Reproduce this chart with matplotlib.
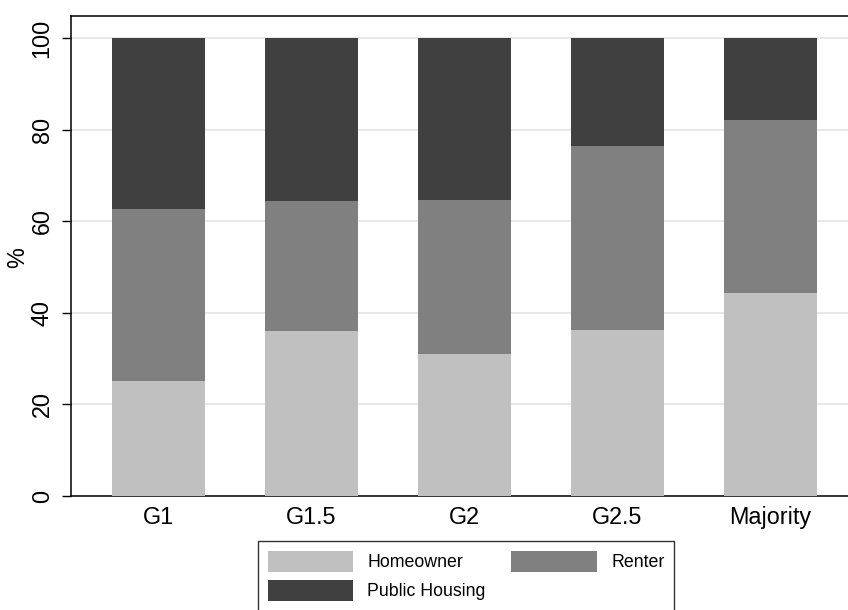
import matplotlib
matplotlib.use("Agg")
import matplotlib.pyplot as plt
import numpy as np

categories = ["G1", "G1.5", "G2", "G2.5", "Majority"]
homeowner = [25.0, 36.0, 30.9, 36.2, 44.4]
renter = [37.6, 28.3, 33.8, 40.3, 37.6]
public_housing = [37.4, 35.7, 35.3, 23.5, 18.0]
series_labels = ["Homeowner", "Renter", "Public Housing"]
colors = ["#c0c0c0", "#808080", "#404040"]

plt.rcParams['font.family'] = ['Liberation Sans', 'DejaVu Sans']

W, H = 848, 610
fig = plt.figure(figsize=(W / 100, H / 100), dpi=100)
left, right, top, bottom = 71, 858, 15.5, 496
ax = fig.add_axes([left / W, (H - bottom) / H, (right - left) / W, (bottom - top) / H])

x = np.arange(len(categories))
width = 0.605
b1 = ax.bar(x, homeowner, width, color=colors[0], zorder=3, label=series_labels[0])
b2 = ax.bar(x, renter, width, bottom=homeowner, color=colors[1], zorder=3, label=series_labels[1])
bot3 = np.array(homeowner) + np.array(renter)
b3 = ax.bar(x, public_housing, width, bottom=bot3, color=colors[2], zorder=3, label=series_labels[2])

ax.set_xlim(-0.572, len(categories) - 1 + 0.572)
ax.set_ylim(0, 104.9)
ax.set_yticks([0, 20, 40, 60, 80, 100])
ax.set_xticks(x)
ax.set_xticklabels(categories, fontsize=16.8)
ax.tick_params(axis='x', length=0, pad=7)
ax.tick_params(axis='y', length=6.5, width=1, pad=6, labelsize=16.8, labelrotation=90)
for lab in ax.get_yticklabels():
    lab.set_va('center')

ax.yaxis.grid(True, color="#e4e4e4", linewidth=1.2, zorder=0)
ax.set_axisbelow(True)
for s in ['left', 'top', 'bottom', 'right']:
    ax.spines[s].set_linewidth(1.1)
    ax.spines[s].set_color('black')

fig.text(18 / W, 1 - 258 / H, "%", rotation=90, ha='center', va='center', fontsize=16.8)

handles = [b1, b3, b2]
labels = [series_labels[0], series_labels[2], series_labels[1]]
leg = fig.legend(handles, labels, ncol=2, loc='upper left',
                 bbox_to_anchor=(258 / W, 1 - 541 / H), borderaxespad=0,
                 fontsize=12.8, frameon=True, fancybox=False, edgecolor='black',
                 handlelength=4.8, handleheight=1.5, handletextpad=0.8,
                 columnspacing=1.45, labelspacing=0.4, borderpad=0.55)
leg.get_frame().set_linewidth(1.0)

fig.savefig("out.png", dpi=100)
